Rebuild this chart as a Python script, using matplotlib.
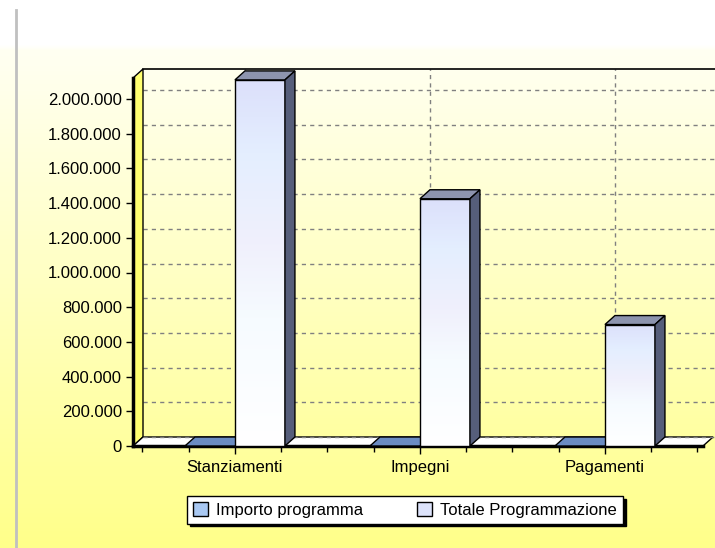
import matplotlib
matplotlib.use("Agg")
import matplotlib.pyplot as plt
import numpy as np
from matplotlib.patches import Polygon, Patch
from matplotlib.colors import LinearSegmentedColormap
from matplotlib.ticker import FuncFormatter, MultipleLocator

plt.rcParams['font.family'] = ['Liberation Sans', 'DejaVu Sans']

# data
categories = ["Stanziamenti", "Impegni", "Pagamenti"]
importo_programma = [0, 0, 0]
totale_programmazione = [2110000, 1425000, 700000]
series_names = ["Importo programma", "Totale Programmazione"]

W, H, DPI = 715, 548, 100
fig = plt.figure(figsize=(W / DPI, H / DPI), dpi=DPI)

# background gradient (white top, yellow bottom)
bg = fig.add_axes([0, 0, 1, 1], zorder=-10)
bg_cmap = LinearSegmentedColormap.from_list(
    "bg", [(0, "#ffffff"), (0.08, "#ffffff"), (0.09, "#fffff2"),
           (0.5, "#ffffc4"), (1, "#ffff8a")])
grad = np.linspace(0, 1, 300).reshape(-1, 1)
bg.imshow(grad, cmap=bg_cmap, aspect="auto", extent=[0, 1, 0, 1], origin="upper")
bg.set_xlim(0, 1)
bg.set_ylim(0, 1)
bg.axis("off")
bg.plot([16 / W, 16 / W], [0, 1 - 10 / H], color="#c0c0c0", lw=2)

# front frame of the 3D plot
left_px, right_px, y0_px, top_px = 133, 703, 446, 78
ax = fig.add_axes([left_px / W, 1 - y0_px / H, (right_px - left_px) / W,
                   (y0_px - top_px) / H])
ax.patch.set_alpha(0)
x0, x1 = -0.551, 2.53
ymax = (y0_px - top_px) / 173.5 * 1e6
dxd = 10 / (right_px - left_px) * (x1 - x0)
dyd = 9 / (y0_px - top_px) * ymax

# gridlines on back wall
yticks = np.arange(0, 2000001, 200000)
for yv in yticks:
    ax.plot([x0 + dxd, x1 + dxd + 0.1], [yv + dyd, yv + dyd], color="#808080",
            ls=(0, (3, 3)), lw=1, zorder=1, clip_on=False)
for i in range(len(categories)):
    ax.plot([i + dxd, i + dxd], [dyd, ymax + dyd], color="#808080",
            ls=(0, (3, 3)), lw=1, zorder=1, clip_on=False)
ax.plot([x0 + dxd, x1 + dxd + 0.1], [ymax + dyd, ymax + dyd], color="black",
        lw=1.2, zorder=2, clip_on=False)

# left wall
ax.add_patch(Polygon([(x0, 0), (x0 + dxd, dyd), (x0 + dxd, ymax + dyd), (x0, ymax)],
                     closed=True, facecolor="#ffff70", edgecolor="black", lw=1,
                     zorder=3, clip_on=False))
ax.plot([x0, x0], [0, ymax], color="black", lw=2.5, zorder=4, clip_on=False)

# floor
ax.add_patch(Polygon([(x0, 0), (x1, 0), (x1 + dxd, dyd), (x0 + dxd, dyd)],
                     closed=True, facecolor="white", edgecolor="black", lw=1,
                     zorder=3, clip_on=False))
ax.plot([x0 + dxd, x1 + dxd], [dyd, dyd], color="#808080", ls=(0, (3, 3)),
        lw=1, zorder=3.5, clip_on=False)
ax.plot([x0, x1], [0, 0], color="black", lw=2.5, zorder=4, clip_on=False)

# bars
bw = 50 / 185
face_cmap = LinearSegmentedColormap.from_list(
    "face", [(0, "#ffffff"), (0.35, "#f6fbff"), (0.55, "#f0f0fc"),
             (0.8, "#e4eeff"), (1, "#dce0fb")])
fgrad = np.linspace(1, 0, 200).reshape(-1, 1)
for i in range(len(categories)):
    # Importo programma
    v = importo_programma[i]
    a, b = i - bw, i
    ax.add_patch(Polygon([(a, v), (b, v), (b + dxd, v + dyd), (a + dxd, v + dyd)],
                         closed=True, facecolor="#6b8cc2", edgecolor="black",
                         lw=1, zorder=5, clip_on=False))
    # Totale Programmazione
    v = totale_programmazione[i]
    a, b = i, i + bw
    ax.imshow(fgrad, cmap=face_cmap, aspect="auto", extent=[a, b, 0, v],
              zorder=6, origin="upper")
    ax.add_patch(Polygon([(a, 0), (b, 0), (b, v), (a, v)], closed=True,
                         facecolor="none", edgecolor="black", lw=1, zorder=7))
    ax.add_patch(Polygon([(a, v), (b, v), (b + dxd, v + dyd), (a + dxd, v + dyd)],
                         closed=True, facecolor="#8d94ae", edgecolor="black",
                         lw=1, zorder=7, clip_on=False))
    ax.add_patch(Polygon([(b, 0), (b + dxd, dyd), (b + dxd, v + dyd), (b, v)],
                         closed=True, facecolor="#565e7a", edgecolor="black",
                         lw=1, zorder=7, clip_on=False))

ax.set_xlim(x0, x1)
ax.set_ylim(0, ymax)
for s in ax.spines.values():
    s.set_visible(False)

ax.set_yticks(yticks)
ax.yaxis.set_major_formatter(FuncFormatter(lambda v, p: f"{int(v):,}".replace(",", ".")))
ax.set_xticks(range(len(categories)))
ax.set_xticklabels(categories)
ax.xaxis.set_minor_locator(MultipleLocator(0.25))
ax.tick_params(axis="y", length=5, width=1, labelsize=12, pad=3)
ax.tick_params(axis="x", which="major", length=6, width=1, labelsize=12, pad=4)
ax.tick_params(axis="x", which="minor", length=4, width=1)

# legend
handles = [Patch(facecolor="#a9c8f2", edgecolor="black", label=series_names[0]),
           Patch(facecolor="#dde3fb", edgecolor="black", label=series_names[1])]
leg = fig.legend(handles=handles, loc="center", bbox_to_anchor=(405 / W, 1 - 510 / H),
                 ncol=2, fontsize=12, frameon=True, fancybox=False,
                 shadow={"color": "black", "alpha": 1}, handlelength=0.9,
                 handleheight=0.9, handletextpad=0.5, columnspacing=3.2,
                 borderpad=0.35, borderaxespad=0)
leg.get_frame().set_edgecolor("black")
leg.get_frame().set_linewidth(1)

fig.savefig("out.png", dpi=DPI)
